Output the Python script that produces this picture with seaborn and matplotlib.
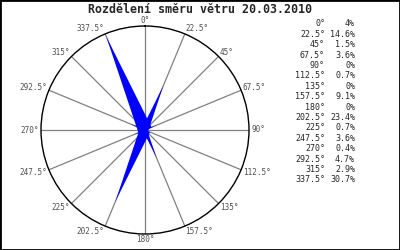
import numpy as np
import matplotlib
matplotlib.use("Agg")
import matplotlib.pyplot as plt
from matplotlib.patches import Rectangle
import seaborn as sns

directions = [0, 22.5, 45, 67.5, 90, 112.5, 135, 157.5, 180, 202.5, 225, 247.5, 270, 292.5, 315, 337.5]
percent = [4, 14.6, 1.5, 3.6, 0, 0.7, 0, 9.1, 0, 23.4, 0.7, 3.6, 0.4, 4.7, 2.9, 30.7]
title = "Rozdělení směru větru 20.03.2010"

sns.set_style("white")
plt.rcParams['font.family'] = ['DejaVu Sans Mono', 'DejaVu Sans']

fig = plt.figure(figsize=(4, 2.5), dpi=100)
ax = fig.add_axes([0.1025, 0.064, 0.52, 0.832], projection='polar')
ax.set_theta_zero_location('N')
ax.set_theta_direction(-1)
rmax = 31.5
ax.set_rlim(0, rmax)
ax.set_yticks([])
ax.set_xticks(np.deg2rad(directions))
ax.set_xticklabels([])
ax.grid(True, color='#808080', lw=0.9)
ax.spines['polar'].set_color('black')
ax.spines['polar'].set_linewidth(1.0)
ax.set_facecolor('white')

for d in directions:
    th = np.deg2rad(d)
    s, c = np.sin(th), np.cos(th)
    if abs(s) < 1e-6:
        ha = 'center'
    elif s > 0:
        ha = 'left'
    else:
        ha = 'right'
    ax.annotate(f"{d:g}°", xy=(th, rmax), xytext=(s * 2, c * 6),
                textcoords='offset pixels', ha=ha, va='center',
                fontsize=5.5, color='#505050', annotation_clip=False)

for d, p in zip(directions, percent):
    if p <= 0:
        continue
    th = np.deg2rad(d)
    w = 0.07 * p
    ax.fill([th + np.pi / 2, th, th - np.pi / 2], [w, p, w], color='#0000ff', lw=0, zorder=3)

fig.text(0.5, 1 - 9.5 / 250, title, ha='center', va='center', fontsize=8.4, fontweight='bold')

for i, (d, p) in enumerate(zip(directions, percent)):
    y = 1 - (24 + i * 10.4) / 250
    fig.text(325 / 400, y, f"{d:g}°", ha='right', va='center', fontsize=6)
    fig.text(355 / 400, y, f"{p:g}%", ha='right', va='center', fontsize=6)

fig.add_artist(Rectangle((0, 0), 1, 1, transform=fig.transFigure, fill=False, edgecolor='black', lw=2))
fig.savefig("out.png", dpi=100)
